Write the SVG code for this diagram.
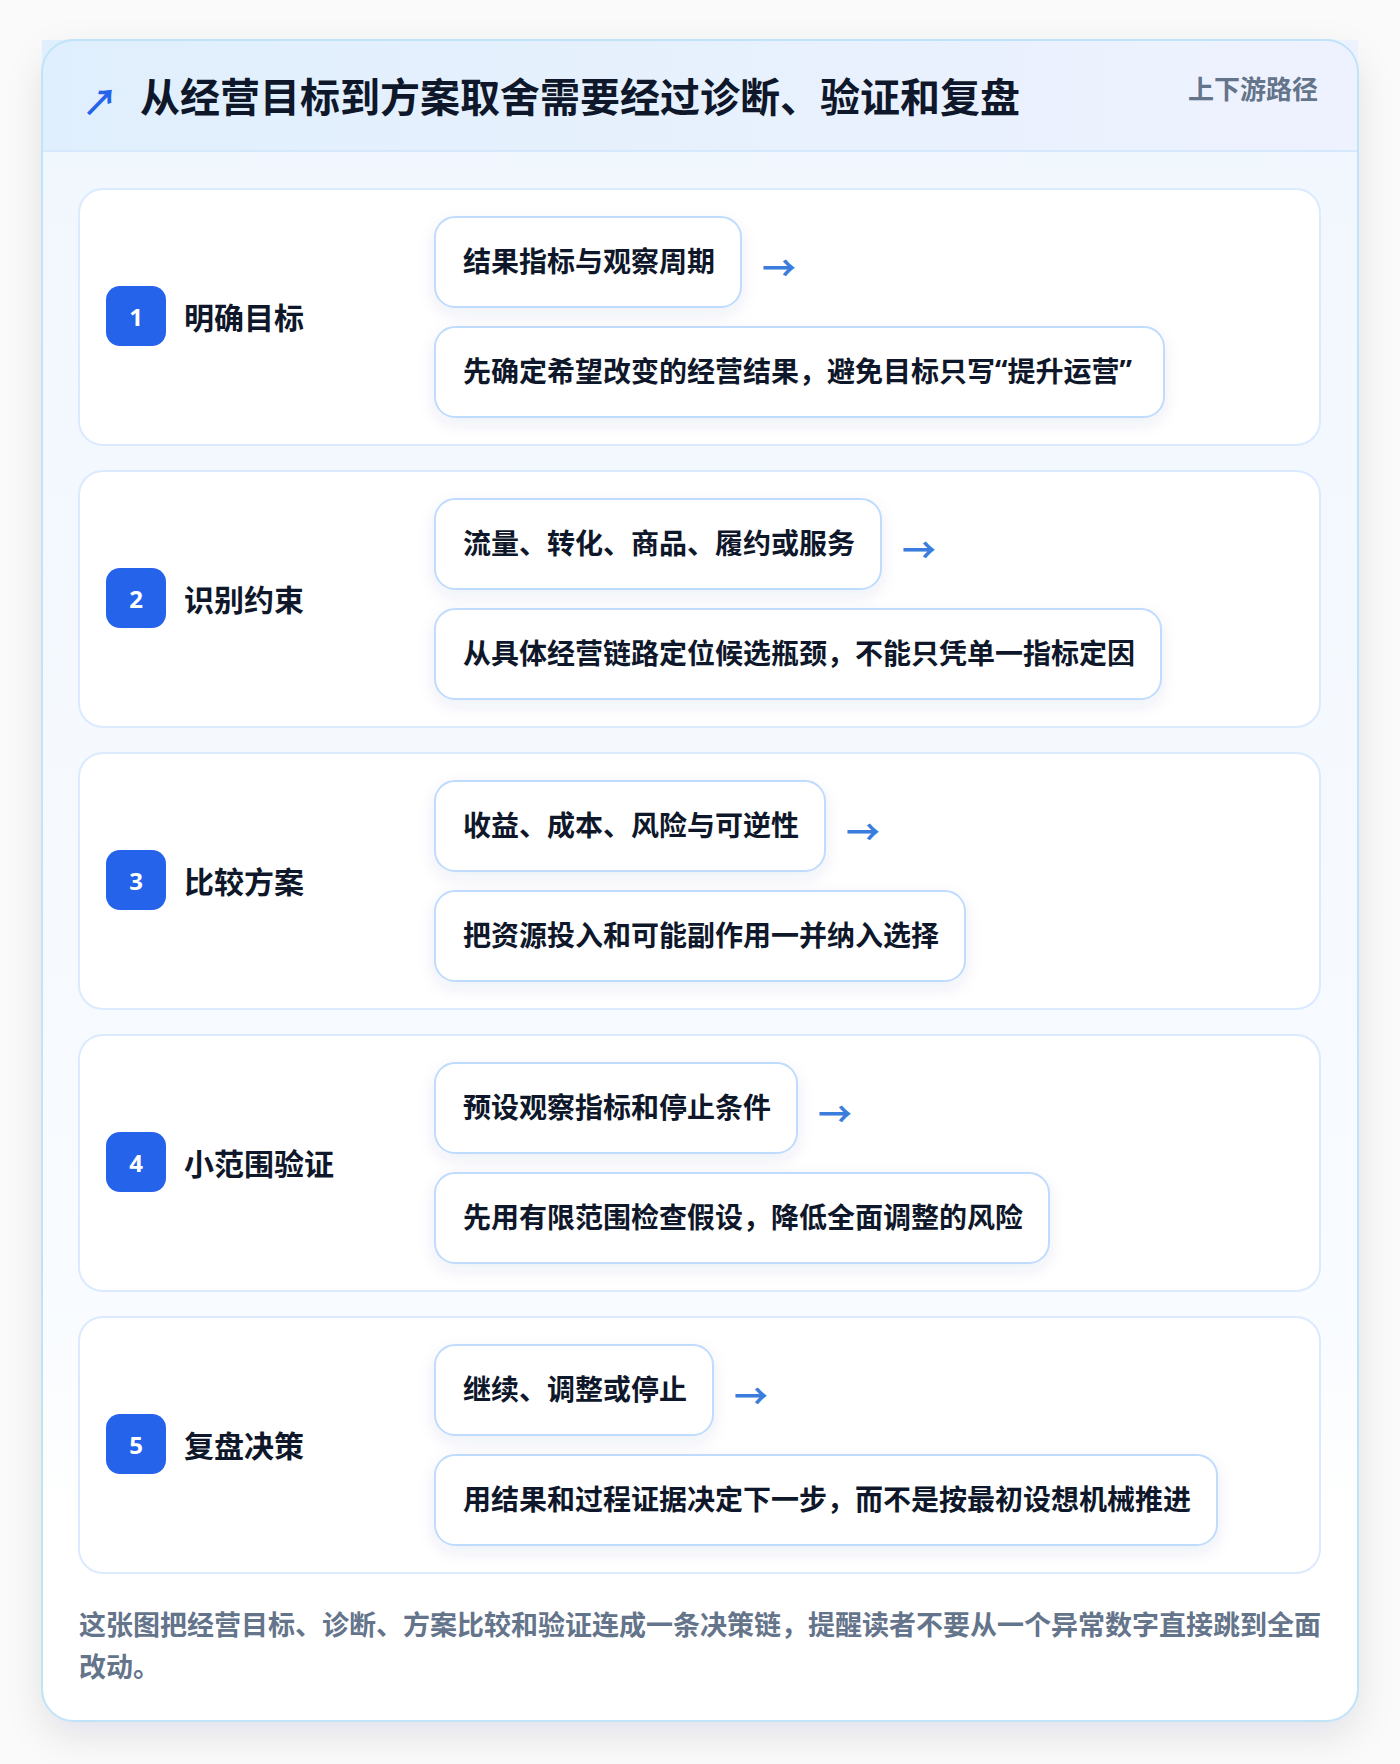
<svg xmlns="http://www.w3.org/2000/svg" width="1400" height="1764" viewBox="0 0 1400 1764">
<defs>
<linearGradient id="hdr" x1="0" y1="0" x2="1" y2="0"><stop offset="0" stop-color="#e0effd"/><stop offset="1" stop-color="#eef2fe"/></linearGradient>
<linearGradient id="body" x1="0" y1="0" x2="0" y2="1"><stop offset="0" stop-color="#f1f7fe"/><stop offset="0.75" stop-color="#f8fbff"/><stop offset="0.88" stop-color="#ffffff"/><stop offset="1" stop-color="#ffffff"/></linearGradient>
<filter id="cardShadow" x="-10%" y="-10%" width="120%" height="120%"><feDropShadow dx="0" dy="14" stdDeviation="18" flood-color="#0f172a" flood-opacity="0.10"/></filter>
<filter id="boxShadow" x="-10%" y="-30%" width="120%" height="170%"><feDropShadow dx="0" dy="6" stdDeviation="8" flood-color="#1e3a8a" flood-opacity="0.08"/></filter>
<style>
.t{font-family:"Noto Sans CJK SC","Noto Sans",sans-serif;font-weight:700}
.q{font-family:"Noto Sans","Liberation Sans",sans-serif}
.title{font-size:40px;fill:#0f172a}
.tag{font-size:26px;fill:#64748b}
.step{fill:#ffffff;stroke:#dbeafe;stroke-width:2}
.badge{fill:#2563eb}
.num{font-size:24px;fill:#ffffff;font-family:"Noto Sans","Liberation Sans",sans-serif;font-weight:700}
.lbl{font-size:30px;fill:#0f172a}
.box{fill:#ffffff;stroke:#bfdbfe;stroke-width:2}
.bt{font-size:28px;fill:#0f172a}
.arr{font-size:34px;fill:#3b7ddd}
.foot{font-size:27px;fill:#64748b}
</style>
</defs>
<rect x="0" y="0" width="1400" height="1764" fill="#fafafb"/>
<g id="card">
<rect x="42" y="40" width="1316" height="1681" rx="32" fill="url(#body)" filter="url(#cardShadow)"/>
<rect x="42" y="40" width="1316" height="112" fill="url(#hdr)"/>
<line x1="42" y1="151" x2="1358" y2="151" stroke="#d6e8fb" stroke-width="2"/>
<rect x="42" y="40" width="1316" height="1681" rx="32" fill="none" stroke="#bfe3f8" stroke-width="2"/>
</g>
<g id="header">
<text class="t" x="82" y="100" font-size="36" fill="#2563eb" dominant-baseline="central">↗</text>
<text class="t title" x="140" y="95" dominant-baseline="central">从经营目标到方案取舍需要经过诊断、验证和复盘</text>
<text class="t tag" x="1318" y="87" text-anchor="end" dominant-baseline="central">上下游路径</text>
</g>
<g id="step1">
<rect class="step" x="79" y="189" width="1241" height="256" rx="24"/>
<rect class="badge" x="106" y="286" width="60" height="60" rx="14"/>
<text class="num" x="136" y="316" text-anchor="middle" dominant-baseline="central">1</text>
<text class="t lbl" x="184" y="316" dominant-baseline="central">明确目标</text>
<rect class="box" x="435" y="217" width="306" height="90" rx="20" filter="url(#boxShadow)"/>
<text class="t bt" x="463" y="260" dominant-baseline="central">结果指标与观察周期</text>
<rect class="box" x="435" y="327" width="729" height="90" rx="20" filter="url(#boxShadow)"/>
<text class="t bt" x="463" y="370" dominant-baseline="central">先确定希望改变的经营结果，避免目标只写<tspan class="q">“</tspan>提升运营<tspan class="q">”</tspan></text>
</g>
<g id="step2">
<rect class="step" x="79" y="471" width="1241" height="256" rx="24"/>
<rect class="badge" x="106" y="568" width="60" height="60" rx="14"/>
<text class="num" x="136" y="598" text-anchor="middle" dominant-baseline="central">2</text>
<text class="t lbl" x="184" y="598" dominant-baseline="central">识别约束</text>
<rect class="box" x="435" y="499" width="446" height="90" rx="20" filter="url(#boxShadow)"/>
<text class="t bt" x="463" y="542" dominant-baseline="central">流量、转化、商品、履约或服务</text>
<rect class="box" x="435" y="609" width="726" height="90" rx="20" filter="url(#boxShadow)"/>
<text class="t bt" x="463" y="652" dominant-baseline="central">从具体经营链路定位候选瓶颈，不能只凭单一指标定因</text>
</g>
<g id="step3">
<rect class="step" x="79" y="753" width="1241" height="256" rx="24"/>
<rect class="badge" x="106" y="850" width="60" height="60" rx="14"/>
<text class="num" x="136" y="880" text-anchor="middle" dominant-baseline="central">3</text>
<text class="t lbl" x="184" y="880" dominant-baseline="central">比较方案</text>
<rect class="box" x="435" y="781" width="390" height="90" rx="20" filter="url(#boxShadow)"/>
<text class="t bt" x="463" y="824" dominant-baseline="central">收益、成本、风险与可逆性</text>
<rect class="box" x="435" y="891" width="530" height="90" rx="20" filter="url(#boxShadow)"/>
<text class="t bt" x="463" y="934" dominant-baseline="central">把资源投入和可能副作用一并纳入选择</text>
</g>
<g id="step4">
<rect class="step" x="79" y="1035" width="1241" height="256" rx="24"/>
<rect class="badge" x="106" y="1132" width="60" height="60" rx="14"/>
<text class="num" x="136" y="1162" text-anchor="middle" dominant-baseline="central">4</text>
<text class="t lbl" x="184" y="1162" dominant-baseline="central">小范围验证</text>
<rect class="box" x="435" y="1063" width="362" height="90" rx="20" filter="url(#boxShadow)"/>
<text class="t bt" x="463" y="1106" dominant-baseline="central">预设观察指标和停止条件</text>
<rect class="box" x="435" y="1173" width="614" height="90" rx="20" filter="url(#boxShadow)"/>
<text class="t bt" x="463" y="1216" dominant-baseline="central">先用有限范围检查假设，降低全面调整的风险</text>
</g>
<g id="step5">
<rect class="step" x="79" y="1317" width="1241" height="256" rx="24"/>
<rect class="badge" x="106" y="1414" width="60" height="60" rx="14"/>
<text class="num" x="136" y="1444" text-anchor="middle" dominant-baseline="central">5</text>
<text class="t lbl" x="184" y="1444" dominant-baseline="central">复盘决策</text>
<rect class="box" x="435" y="1345" width="278" height="90" rx="20" filter="url(#boxShadow)"/>
<text class="t bt" x="463" y="1388" dominant-baseline="central">继续、调整或停止</text>
<rect class="box" x="435" y="1455" width="782" height="90" rx="20" filter="url(#boxShadow)"/>
<text class="t bt" x="463" y="1498" dominant-baseline="central">用结果和过程证据决定下一步，而不是按最初设想机械推进</text>
</g>
<g id="connectors">
<text class="t arr" x="762" y="266" dominant-baseline="central">→</text>
<text class="t arr" x="902" y="548" dominant-baseline="central">→</text>
<text class="t arr" x="846" y="830" dominant-baseline="central">→</text>
<text class="t arr" x="818" y="1112" dominant-baseline="central">→</text>
<text class="t arr" x="734" y="1394" dominant-baseline="central">→</text>
</g>
<g id="footer">
<text class="t foot" x="79" y="1623" dominant-baseline="central">这张图把经营目标、诊断、方案比较和验证连成一条决策链，提醒读者不要从一个异常数字直接跳到全面</text>
<text class="t foot" x="79" y="1665" dominant-baseline="central">改动。</text>
</g>
</svg>
